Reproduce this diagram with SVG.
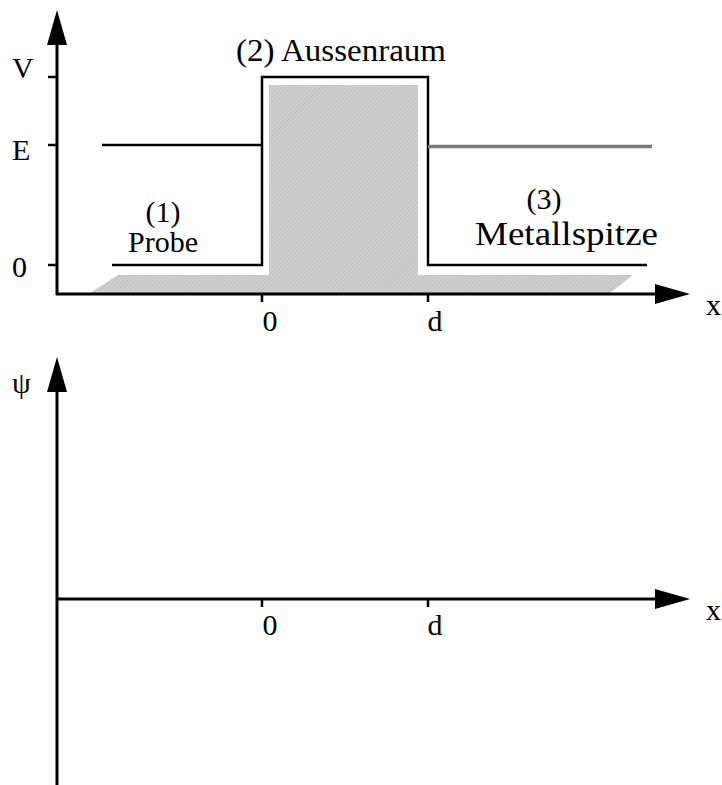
<svg xmlns="http://www.w3.org/2000/svg" width="722" height="785" viewBox="0 0 722 785">
<style>
.ax{stroke:#000;stroke-width:3;fill:none}
.ln{stroke:#000;stroke-width:2.5;fill:none}
.ah{fill:#000}
</style>
<defs>
<pattern id="hatch" width="3" height="3" patternUnits="userSpaceOnUse" patternTransform="rotate(45)">
<rect width="3" height="3" fill="#cfcfcf"/>
<line x1="0" y1="0" x2="0" y2="3" stroke="#b4b4b4" stroke-width="1"/>
</pattern>
</defs>
<rect width="722" height="785" fill="#fff"/>
<g id="potential-plot">
<polygon points="90,293 118,275 269,275 269,85 418,85 418,275 633,275 610,293" fill="url(#hatch)"/>
<g id="axes-top">
<line class="ax" x1="57" y1="44" x2="57" y2="295"/>
<polygon class="ah" points="57,10 47,45 67,45"/>
<line class="ax" x1="56" y1="294" x2="656" y2="294"/>
<polygon class="ah" points="690,294 655,284 655,304"/>
<line class="ln" x1="48" y1="77" x2="57" y2="77"/>
<line class="ln" x1="48" y1="145" x2="57" y2="145"/>
<line class="ln" x1="48" y1="265" x2="57" y2="265"/>
<line class="ln" x1="262" y1="294" x2="262" y2="302"/>
<line class="ln" x1="428" y1="294" x2="428" y2="302"/>
</g>
<line class="ln" x1="102" y1="145" x2="262" y2="145"/>
<polyline class="ln" points="112,265 262,265 262,77 428,77 428,265 647,265"/>
<line x1="428" y1="146.5" x2="652" y2="146.5" stroke="#7a7a7a" stroke-width="3.5"/>
<g font-family="Liberation Serif, serif" font-size="30" fill="#000">
<text x="12" y="78">V</text>
<text x="12" y="160">E</text>
<text x="12" y="277">0</text>
<text x="236" y="61" font-size="32" textLength="210" lengthAdjust="spacingAndGlyphs">(2) Aussenraum</text>
<text x="163" y="222" text-anchor="middle">(1)</text>
<text x="163" y="252" text-anchor="middle">Probe</text>
<text x="544" y="209" text-anchor="middle">(3)</text>
<text x="475" y="245" font-size="34" textLength="183" lengthAdjust="spacingAndGlyphs">Metallspitze</text>
<text x="270" y="331" text-anchor="middle">0</text>
<text x="435" y="331" text-anchor="middle">d</text>
<text x="706" y="315">x</text>
</g>
</g>
<g id="wave-plot">
<line class="ax" x1="57" y1="390" x2="57" y2="785"/>
<polygon class="ah" points="57,357 47,392 67,392"/>
<line class="ax" x1="56" y1="599" x2="656" y2="599"/>
<polygon class="ah" points="690,599 655,589 655,609"/>
<line class="ln" x1="262" y1="599" x2="262" y2="607"/>
<line class="ln" x1="428" y1="599" x2="428" y2="607"/>
<g font-family="Liberation Serif, serif" font-size="30" fill="#000">
<text x="12" y="393">ψ</text>
<text x="270" y="635" text-anchor="middle">0</text>
<text x="435" y="635" text-anchor="middle">d</text>
<text x="706" y="620">x</text>
</g>
</g>
</svg>
